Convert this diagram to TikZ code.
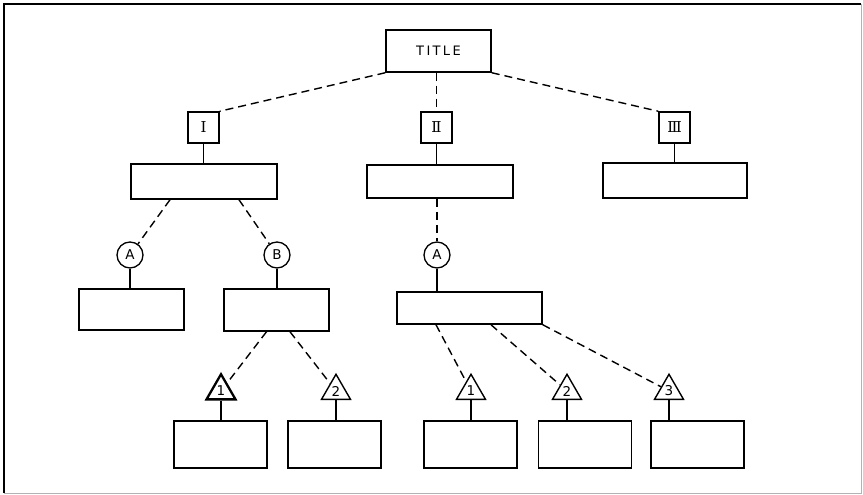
\documentclass[tikz,border=0pt]{standalone}
\usepackage{fontspec}
\setmainfont{DejaVu Sans}
\newfontfamily\titlefont[LetterSpace=18]{DejaVu Sans}
\newfontfamily\numeralfont{DejaVu Serif}
\usetikzlibrary{shapes.geometric}
\begin{document}
\begin{tikzpicture}[x=1pt,y=-1pt,
  box/.style={draw,line width=1.5pt,inner sep=0pt,rectangle},
  numbox/.style={box,minimum width=31pt,minimum height=31pt,font=\numeralfont\fontsize{15}{17}\selectfont},
  wide/.style={box,minimum width=146pt,minimum height=35pt},
  small/.style={box,minimum width=105pt,minimum height=41pt},
  leaf/.style={box,minimum width=93pt,minimum height=47pt},
  circ/.style={draw,circle,line width=1.3pt,inner sep=0pt,minimum size=26pt,font=\fontsize{13.5}{15}\selectfont},
  tri/.style={draw,regular polygon,regular polygon sides=3,line width=1.4pt,inner sep=0pt,minimum size=33.5pt,font=\fontsize{13.5}{15}\selectfont},
  dash link/.style={line width=1.4pt,dash pattern=on 8pt off 5pt},
  solid link/.style={line width=1.3pt}
]
\useasboundingbox (0,0) rectangle (863,495);
% frame
\draw[line width=1.8pt] (4,493) -- (4,4) -- (861,4);
\draw[line width=1pt,gray!60] (4,493) -- (861,493) -- (861,4);

% level 0
\node[box,minimum width=105pt,minimum height=42pt,font=\titlefont\fontsize{13}{15}\selectfont] (title) at (438.5,51) {TITLE};

% level 1
\node[numbox] (rI) at (203.5,127.5) {Ⅰ};
\node[numbox] (rII) at (436.5,127.5) {Ⅱ};
\node[numbox] (rIII) at (674.5,127.5) {Ⅲ};

\node[wide] (bI) at (204,181.5) {};
\node[wide,minimum height=33pt] (bII) at (440,181.5) {};
\node[wide,minimum width=144pt] (bIII) at (675,180.5) {};

% level 2
\node[circ] (cA1) at (130,255) {A};
\node[circ] (cB) at (277,255) {B};
\node[circ] (cA2) at (437,255) {A};

\node[small] (bA1) at (131.5,309.5) {};
\node[small,minimum height=42pt] (bB) at (276.5,310) {};
\node[wide,minimum width=145pt,minimum height=32pt] (bA2) at (469.5,308) {};

% level 3
\node[tri,line width=2.3pt] (tB1) at (221,391) {1};
\node[tri] (tB2) at (336,391) {2};
\node[tri] (tA1) at (471,391) {1};
\node[tri] (tA2) at (567,391) {2};
\node[tri] (tA3) at (669,391) {3};

\node[leaf] (lB1) at (220.5,444.5) {};
\node[leaf] (lB2) at (334.5,444.5) {};
\node[leaf] (lA1) at (470.5,444.5) {};
\node[leaf] (lA2) at (585,444.5) {};
\node[leaf] (lA3) at (697.5,444.5) {};

% dashed connectors
\draw[dash link] (title.south west) -- (rI.north east);
\draw[dash link] (rII.north |- title.south) -- (rII.north);
\draw[dash link] (title.south east) -- (rIII.north west);

\draw[dash link] ([xshift=-34pt]bI.south) -- (cA1);
\draw[dash link] ([xshift=35pt]bI.south) -- (cB);
\draw[dash link] (cA2.north |- bII.south) -- (cA2.north);

\draw[dash link] ([xshift=-10pt]bB.south) -- (tB1);
\draw[dash link] ([xshift=13.5pt]bB.south) -- (tB2);

\draw[dash link] ([xshift=-33.5pt]bA2.south) -- (tA1);
\draw[dash link] ([xshift=21.5pt]bA2.south) -- (tA2);
\draw[dash link] (bA2.south east) -- (tA3);

% solid connectors
\draw[solid link] (rI.south) -- (rI.south |- bI.north);
\draw[solid link] (rII.south) -- (rII.south |- bII.north);
\draw[solid link] (rIII.south) -- (rIII.south |- bIII.north);

\draw[solid link] (cA1.south) -- (cA1.south |- bA1.north);
\draw[solid link] (cB.south) -- (cB.south |- bB.north);
\draw[solid link] (cA2.south) -- (cA2.south |- bA2.north);

\draw[solid link] (tB1.south) -- (tB1.south |- lB1.north);
\draw[solid link] (tB2.south) -- (tB2.south |- lB2.north);
\draw[solid link] (tA1.south) -- (tA1.south |- lA1.north);
\draw[solid link] (tA2.south) -- (tA2.south |- lA2.north);
\draw[solid link] (tA3.south) -- (tA3.south |- lA3.north);
\end{tikzpicture}
\end{document}
